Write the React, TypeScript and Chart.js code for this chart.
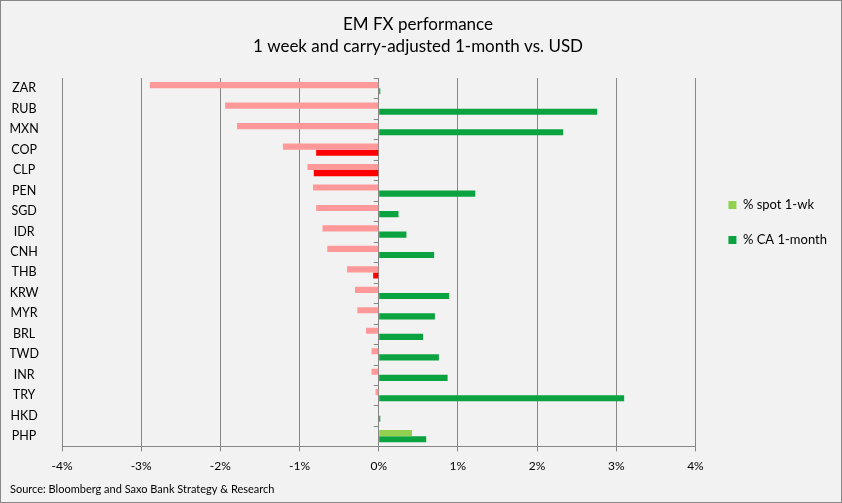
import React, { useEffect, useRef } from "react";
import { Chart, registerables } from "chart.js";

Chart.register(...registerables);

const categories = ["ZAR", "RUB", "MXN", "COP", "CLP", "PEN", "SGD", "IDR", "CNH", "THB", "KRW", "MYR", "BRL", "TWD", "INR", "TRY", "HKD", "PHP"];
const spot1wk = [-2.89, -1.94, -1.79, -1.21, -0.9, -0.83, -0.79, -0.71, -0.65, -0.4, -0.3, -0.27, -0.16, -0.09, -0.09, -0.04, 0.0, 0.42];
const ca1month = [0.02, 2.76, 2.33, -0.79, -0.82, 1.22, 0.25, 0.35, 0.7, -0.07, 0.89, 0.71, 0.56, 0.76, 0.87, 3.1, 0.02, 0.6];
const xTicks = [-4, -3, -2, -1, 0, 1, 2, 3, 4];

const FONT = "Lato, 'Open Sans', sans-serif";
const GRID = "#868686";

const zeroTicks = {
  id: "zeroTicks",
  afterDraw(chart: any) {
    const { ctx, scales } = chart;
    const x0 = scales.x.getPixelForValue(0);
    const y = scales.y;
    ctx.save();
    ctx.strokeStyle = GRID;
    ctx.lineWidth = 1;
    for (let i = 0; i <= categories.length; i++) {
      const yp = Math.round(y.getPixelForValue(i - 0.5)) + 0.5;
      ctx.beginPath();
      ctx.moveTo(x0 - 5, yp);
      ctx.lineTo(x0, yp);
      ctx.stroke();
    }
    ctx.restore();
  },
};

const legendShift = {
  id: "legendShift",
  afterLayout(chart: any) {
    const lg = chart.legend;
    if (!lg) return;
    const w = lg.width;
    lg.left = chart.chartArea.right + 11;
    lg.right = lg.left + w;
  },
};

export default function App() {
  const ref = useRef<HTMLCanvasElement>(null);
  useEffect(() => {
    document.body.style.margin = "0";
    const chart = new Chart(ref.current!, {
      type: "bar",
      data: {
        labels: categories,
        datasets: [
          {
            label: "% spot 1-wk",
            data: spot1wk,
            backgroundColor: spot1wk.map((v) => (v < 0 ? "#FF9999" : "#92D050")),
            categoryPercentage: 0.6,
            barPercentage: 1,
          },
          {
            label: "% CA 1-month",
            data: ca1month,
            backgroundColor: ca1month.map((v) => (v < 0 ? "#FF0000" : "#0BA33F")),
            categoryPercentage: 0.6,
            barPercentage: 1,
          },
        ],
      },
      options: {
        indexAxis: "y",
        animation: false,
        responsive: false,
        maintainAspectRatio: false,
        layout: { padding: { left: 9, right: 15, top: 0, bottom: 0 } },
        plugins: {
          title: {
            display: true,
            text: ["EM FX performance", "1 week and carry-adjusted 1-month vs. USD"],
            color: "#000",
            font: { family: FONT, size: 17, weight: "normal", lineHeight: 1.3 },
            padding: { top: 12, bottom: 20.8 },
          },
          subtitle: {
            display: true,
            position: "bottom",
            align: "start",
            text: "Source: Bloomberg and Saxo Bank Strategy & Research",
            color: "#000",
            font: { family: FONT, size: 11, weight: "normal" },
            padding: { top: 1, bottom: 6 },
          },
          legend: {
            position: "right",
            align: "start",
            title: { display: true, text: " ", padding: { top: 0, bottom: 161 }, font: { size: 12 } },
            labels: {
              boxWidth: 8,
              boxHeight: 8,
              padding: 22,
              color: "#000",
              font: { family: FONT, size: 13 },
              generateLabels: () => [
                { text: "% spot 1-wk", fillStyle: "#92D050", strokeStyle: "#92D050", fontColor: "#000", lineWidth: 0, datasetIndex: 0 },
                { text: "% CA 1-month", fillStyle: "#0BA33F", strokeStyle: "#0BA33F", fontColor: "#000", lineWidth: 0, datasetIndex: 1 },
              ],
            },
          },
          tooltip: { enabled: false },
        },
        scales: {
          x: {
            min: -4,
            max: 4,
            afterBuildTicks: (s: any) => {
              s.ticks = xTicks.map((v) => ({ value: v }));
            },
            ticks: {
              color: "#000",
              font: { family: FONT, size: 12 },
              padding: 8,
              callback: (v: any) => v + "%",
            },
            grid: { color: GRID, lineWidth: 1, tickLength: 5 },
            border: { color: GRID },
          },
          y: {
            grid: { display: false, drawTicks: false },
            border: { display: false },
            afterFit: (s: any) => {
              s.width = 52;
            },
            ticks: {
              color: "#000",
              crossAlign: "center",
              padding: 23,
              font: { family: FONT, size: 12.5 },
            },
          },
        },
      },
      plugins: [zeroTicks, legendShift],
    });
    return () => chart.destroy();
  }, []);
  return (
    <div
      style={{
        position: "absolute",
        left: 0,
        top: 0,
        width: 842,
        height: 503,
        boxSizing: "border-box",
        border: "1px solid #878787",
        background: "#F2F2F2",
      }}
    >
      <canvas ref={ref} width={840} height={501} style={{ display: "block" }} />
    </div>
  );
}
